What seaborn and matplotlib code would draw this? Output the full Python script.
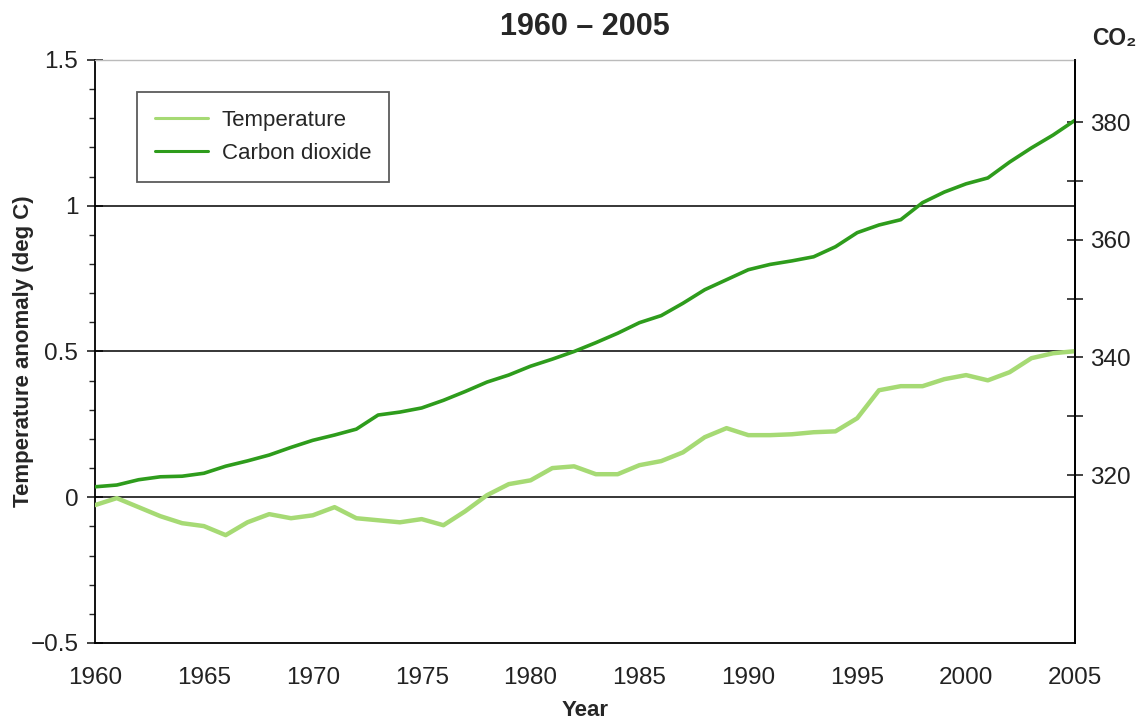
import pandas as pd
import matplotlib
matplotlib.use("Agg")
import matplotlib.pyplot as plt
from matplotlib.ticker import MultipleLocator, FixedLocator
import seaborn as sns

# ==========================================
# DATA
# ==========================================
years = list(range(1960, 2006))

temperature = [
    -0.027, -0.003, -0.034, -0.065, -0.089, -0.099, -0.130, -0.086, -0.058, -0.072,
    -0.062, -0.034, -0.072, -0.079, -0.086, -0.075, -0.096, -0.048, 0.007, 0.045,
    0.058, 0.100, 0.106, 0.079, 0.079, 0.110, 0.124, 0.154, 0.206, 0.237,
    0.213, 0.213, 0.216, 0.223, 0.226, 0.271, 0.367, 0.381, 0.381, 0.405,
    0.419, 0.401, 0.429, 0.477, 0.494, 0.501,
]

co2 = [
    318.0, 318.3, 319.2, 319.7, 319.8, 320.3, 321.5, 322.4, 323.4, 324.7,
    325.9, 326.8, 327.8, 330.2, 330.7, 331.4, 332.7, 334.2, 335.8, 337.0,
    338.5, 339.7, 341.0, 342.5, 344.1, 345.9, 347.1, 349.2, 351.5, 353.2,
    354.9, 355.8, 356.4, 357.1, 358.8, 361.2, 362.5, 363.4, 366.3, 368.1,
    369.5, 370.5, 373.2, 375.6, 377.8, 380.3,
]

ref_lines = [0, 0.5, 1]
temp_ticks = [-0.5, 0, 0.5, 1, 1.5]
temp_labels = ["\u22120.5", "0", "0.5", "1", "1.5"]
co2_ticks = [320, 340, 360, 380]
co2_minor = [330, 350, 370]

TEMP_COLOR = "#a6da74"
CO2_COLOR = "#2e9c1c"

df = pd.DataFrame({"year": years, "temperature": temperature, "co2": co2})

# ==========================================
# STYLE
# ==========================================
sns.set_style("white")
plt.rcParams['font.family'] = ['Liberation Sans', 'DejaVu Sans']

fig = plt.figure(figsize=(11.42, 7.21), dpi=100)
ax = fig.add_axes([0.0832, 0.1082, 0.8581, 0.8086])

for y in ref_lines:
    ax.axhline(y, color="black", lw=1.1, zorder=1)

sns.lineplot(data=df, x="year", y="temperature", ax=ax, color=TEMP_COLOR,
             lw=3.2, label="Temperature", legend=False, zorder=3)

ax.set_xlim(1960, 2005)
ax.set_ylim(-0.5, 1.5)
ax.xaxis.set_major_locator(MultipleLocator(5))
ax.xaxis.set_minor_locator(MultipleLocator(1))
ax.set_yticks(temp_ticks)
ax.set_yticklabels(temp_labels)
ax.yaxis.set_minor_locator(MultipleLocator(0.1))

ax.tick_params(axis="x", which="major", direction="out", length=8, width=1.2,
               labelsize=17.5, pad=9, colors="#222222")
ax.tick_params(axis="x", which="minor", direction="out", length=4, width=1)
ax.tick_params(axis="y", which="major", direction="inout", length=12, width=1.2,
               labelsize=17.5, pad=6, colors="#222222")
ax.tick_params(axis="y", which="minor", direction="out", length=4, width=1)

ax.set_xlabel("Year", fontsize=16, fontweight="bold", labelpad=8)
ax.set_ylabel("Temperature anomaly (deg C)", fontsize=16, fontweight="bold")
ax.yaxis.set_label_coords(-0.062, 0.5)
ax.set_title("1960 \u2013 2005", fontsize=22, fontweight="bold", pad=18)

for side in ["left", "bottom", "right"]:
    ax.spines[side].set_color("black")
    ax.spines[side].set_linewidth(1.3)
ax.spines["top"].set_color("#bbbbbb")
ax.spines["top"].set_linewidth(1)

# right axis: CO2
ax2 = ax.twinx()
sns.lineplot(data=df, x="year", y="co2", ax=ax2, color=CO2_COLOR,
             lw=2.6, label="Carbon dioxide", legend=False)
ax2.set_ylim(291.45, 390.55)
ax2.set_ylabel("")
ax2.yaxis.set_major_locator(FixedLocator(co2_ticks))
ax2.yaxis.set_minor_locator(FixedLocator(co2_minor))
ax2.tick_params(axis="y", which="major", direction="inout", length=12, width=1.2,
                labelsize=17.5, pad=5, colors="#222222")
ax2.tick_params(axis="y", which="minor", direction="inout", length=12, width=1.2)
ax2.spines["top"].set_visible(False)
ax2.spines["left"].set_visible(False)
ax2.spines["bottom"].set_visible(False)
ax2.spines["right"].set_color("black")
ax2.spines["right"].set_linewidth(1.3)

fig.text(0.976, 0.947, "CO\u2082", fontsize=16.5, fontweight="bold",
         ha="center", va="center")

# combined legend
h1, l1 = ax.get_legend_handles_labels()
h2, l2 = ax2.get_legend_handles_labels()
leg = ax2.legend(h1 + h2, l1 + l2, loc="upper left",
                 bbox_to_anchor=(0.043, 0.945), borderaxespad=0,
                 fontsize=16, frameon=True, fancybox=False,
                 edgecolor="#333333", handlelength=2.4, borderpad=0.8,
                 labelspacing=0.55, handletextpad=0.6)
leg.get_frame().set_linewidth(1.3)
for line in leg.get_lines():
    line.set_linewidth(2.2)

fig.savefig("out.png", dpi=100)
